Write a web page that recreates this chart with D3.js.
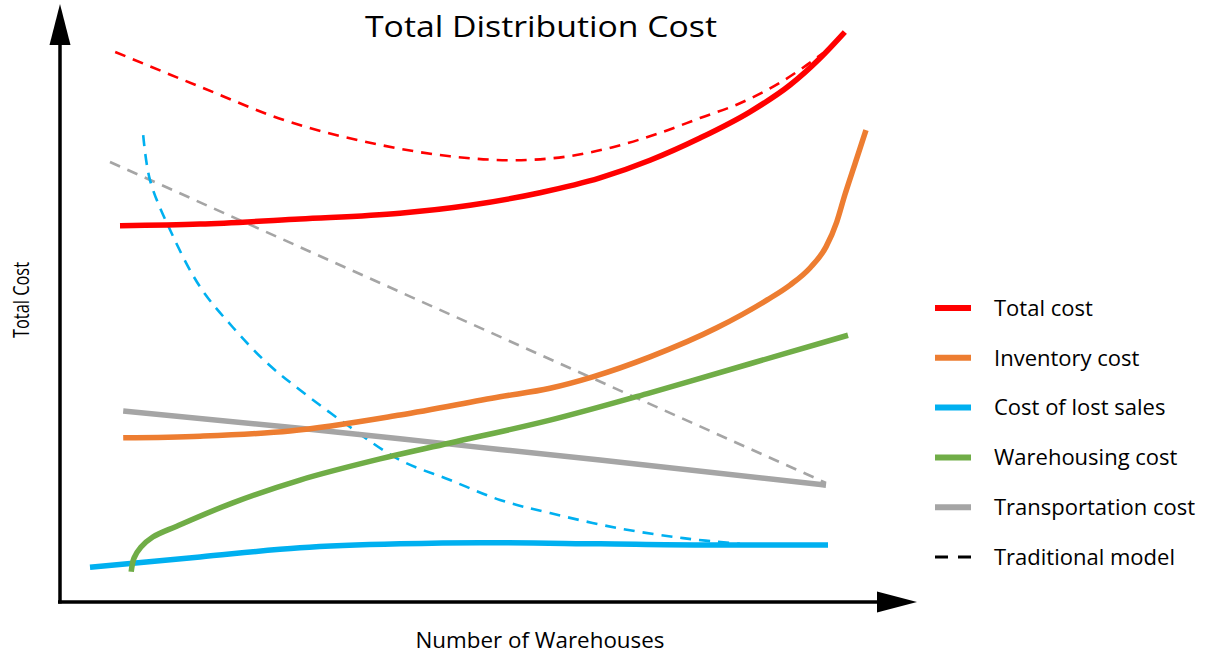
<!DOCTYPE html>
<html>
<head>
<meta charset="utf-8">
<script src="https://cdn.jsdelivr.net/npm/d3@7"></script>
<style>
  html, body { margin: 0; padding: 0; background: #fff; }
  svg { display: block; }
  text { font-family: "Open Sans", "Noto Sans", sans-serif; fill: #000; }
</style>
</head>
<body>
<svg id="chart" width="1206" height="657"></svg>
<script>
// Conceptual cost curves, x = number of warehouses (relative), y = cost (relative)
const totalCost = [[7.5,66.0],[17.5,66.3],[30,67.2],[42.5,68.2],[51.25,69.6],[60,71.8],[67.5,74.4],[73.75,77.5],[80,81.4],[86.25,86.0],[91.25,90.7],[95,95.4],[98.1,100]];
const totalTraditional = [[6.9,96.5],[17.5,90.4],[27.9,84.6],[40,80.2],[48.75,78.2],[56.6,77.5],[63.1,78.1],[69.1,79.8],[75,82.3],[80,84.9],[85,87.5],[90,91.1],[95.4,96.3]];
const inventoryCost = [[7.9,28.8],[17.5,29.1],[28.75,30.0],[42.5,32.8],[55,36.0],[61.25,37.5],[66.6,39.5],[73.75,43.0],[82.1,48.1],[88.4,53.0],[91.25,55.6],[93.75,58.6],[95.75,62.3],[97.1,66.7],[98.1,71.4],[99.4,77.0],[100.75,82.8]];
const lostSalesCost = [[3.75,6.1],[17.5,7.9],[30,9.5],[42.5,10.2],[52.5,10.4],[67.5,10.2],[80,10.0],[96,10.0]];
const lostSalesTraditional = [[10.4,81.9],[11.25,74.0],[13.75,65.3],[17.5,55.3],[21.6,48.2],[25.9,41.9],[30,37.2],[36.25,30.7],[42.5,24.9],[48.75,21.4],[55,17.9],[61.25,15.6],[69.6,13.0],[77.9,11.2],[85,10.2]];
const warehousingCost = [[8.9,5.3],[9.25,7.7],[10.1,9.6],[11.6,11.4],[14.6,13.3],[21.6,17.4],[30,21.4],[40,25.1],[48.75,27.9],[61.25,31.9],[73.75,36.7],[86.25,41.8],[98.5,46.8]];
const transportCost = [[7.9,33.5],[30,30.5],[48.75,27.7],[67.5,24.9],[95.75,20.5]];
const transportTraditional = [[6.25,77.2],[95.75,20.9]];

const legendLabels = ["Total cost", "Inventory cost", "Cost of lost sales", "Warehousing cost", "Transportation cost", "Traditional model"];
const legendColors = ["#ff0000", "#ed7d31", "#00b0f0", "#70ad47", "#a5a5a5", "#000000"];

const svg = d3.select("#chart");

const x = d3.scaleLinear().domain([0, 100]).range([60, 860]);
const y = d3.scaleLinear().domain([0, 100]).range([602, 32]);

const lineMono = d3.line()
  .x(d => x(d[0]))
  .y(d => y(d[1]))
  .curve(d3.curveMonotoneX);
const lineSmooth = d3.line()
  .x(d => x(d[0]))
  .y(d => y(d[1]))
  .curve(d3.curveCatmullRom.alpha(0.5));

// Axes with arrowheads
const axisG = svg.append("g");
axisG.append("line")
  .attr("x1", x(0)).attr("y1", y(0) + 1.5)
  .attr("x2", x(0)).attr("y2", 44)
  .attr("stroke", "#000").attr("stroke-width", 3.5);
axisG.append("path")
  .attr("d", d3.line()([[x(0), 4], [x(0) - 10.5, 45], [x(0) + 10.5, 45]]) + "Z")
  .attr("fill", "#000");
axisG.append("line")
  .attr("x1", x(0) - 2).attr("y1", y(0))
  .attr("x2", 878).attr("y2", y(0))
  .attr("stroke", "#000").attr("stroke-width", 3.5);
axisG.append("path")
  .attr("d", d3.line()([[917, y(0)], [877, y(0) - 10.5], [877, y(0) + 10.5]]) + "Z")
  .attr("fill", "#000");

// Series
const series = [
  { data: transportTraditional, color: legendColors[4], dashed: true, gen: lineMono },
  { data: lostSalesTraditional, color: legendColors[2], dashed: true, gen: lineSmooth },
  { data: totalTraditional, color: legendColors[0], dashed: true, gen: lineMono },
  { data: lostSalesCost, color: legendColors[2], dashed: false, gen: lineMono },
  { data: transportCost, color: legendColors[4], dashed: false, gen: lineMono },
  { data: inventoryCost, color: legendColors[1], dashed: false, gen: lineMono },
  { data: warehousingCost, color: legendColors[3], dashed: false, gen: lineSmooth },
  { data: totalCost, color: legendColors[0], dashed: false, gen: lineMono }
];

svg.append("g").selectAll("path")
  .data(series)
  .join("path")
  .attr("d", s => s.gen(s.data))
  .attr("fill", "none")
  .attr("stroke", s => s.color)
  .attr("stroke-width", s => s.dashed ? 2.6 : 5.5)
  .attr("stroke-dasharray", s => s.dashed ? "11,8" : null)
  .attr("stroke-linecap", "butt");

// Title and axis titles
svg.append("text")
  .attr("x", 541).attr("y", 37)
  .attr("text-anchor", "middle")
  .attr("font-size", 30)
  .attr("textLength", 352)
  .attr("lengthAdjust", "spacingAndGlyphs")
  .text("Total Distribution Cost");

svg.append("text")
  .attr("x", 540).attr("y", 648)
  .attr("text-anchor", "middle")
  .attr("font-size", 21)
  .attr("textLength", 249)
  .attr("lengthAdjust", "spacingAndGlyphs")
  .text("Number of Warehouses");

svg.append("text")
  .attr("transform", "translate(29,300) rotate(-90)")
  .attr("text-anchor", "middle")
  .attr("font-size", 21)
  .attr("textLength", 76)
  .attr("lengthAdjust", "spacingAndGlyphs")
  .text("Total Cost");

// Legend
const legendY = d3.scalePoint().domain(legendLabels).range([308, 557]);
const legend = svg.append("g");
const items = legend.selectAll("g")
  .data(legendLabels)
  .join("g")
  .attr("transform", d => `translate(0,${legendY(d)})`);

items.append("line")
  .attr("x1", 935).attr("x2", 971)
  .attr("y1", 0).attr("y2", 0)
  .attr("stroke", (d, i) => legendColors[i])
  .attr("stroke-width", (d, i) => i === 5 ? 3 : 6)
  .attr("stroke-dasharray", (d, i) => i === 5 ? "13,10" : null);

items.append("text")
  .attr("x", 994).attr("y", 0)
  .attr("dy", "0.35em")
  .attr("font-size", 22)
  .text(d => d);
</script>
</body>
</html>
